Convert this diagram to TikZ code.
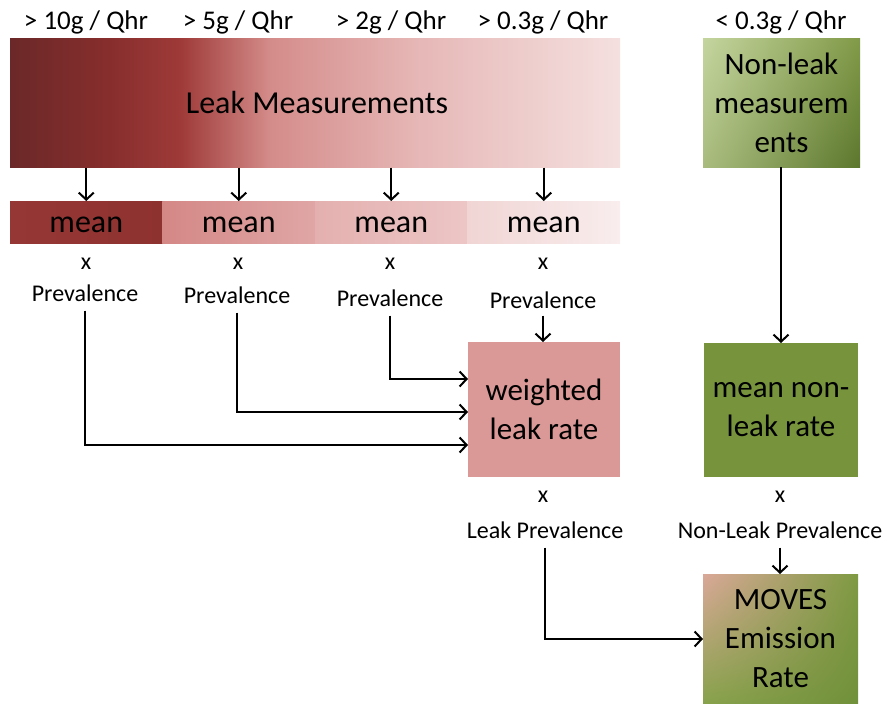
\documentclass[tikz,border=0pt]{standalone}
\usepackage{fontspec}
\setmainfont{Carlito}
\usetikzlibrary{arrows.meta,shadings}
\definecolor{barA}{HTML}{6B2828}
\definecolor{barB}{HTML}{872E2D}
\definecolor{barC}{HTML}{9E3A38}
\definecolor{barD}{HTML}{D48C8A}
\definecolor{barE}{HTML}{E6B8B7}
\definecolor{barF}{HTML}{F4E0DF}
\definecolor{mOneL}{HTML}{953735}
\definecolor{mOneR}{HTML}{8E3230}
\definecolor{mTwoL}{HTML}{D48886}
\definecolor{mTwoR}{HTML}{DFA6A5}
\definecolor{mThrL}{HTML}{E3B0AF}
\definecolor{mThrR}{HTML}{ECC6C5}
\definecolor{mFouL}{HTML}{F0D5D4}
\definecolor{mFouR}{HTML}{F9EDED}
\definecolor{nlUL}{HTML}{C5D59F}
\definecolor{nlLL}{HTML}{A9BC7E}
\definecolor{nlUR}{HTML}{819A48}
\definecolor{nlLR}{HTML}{5C772D}
\definecolor{mvUL}{HTML}{DAA898}
\definecolor{mvUR}{HTML}{7E9A42}
\definecolor{mvLL}{HTML}{87A24B}
\definecolor{mvLR}{HTML}{71903A}
\definecolor{wlfill}{HTML}{DA9896}
\definecolor{mngreen}{HTML}{77933C}
\begin{document}
\begin{tikzpicture}[x=1pt,y=-1pt,
  arr/.style={line width=2pt,-{Straight Barb[length=7pt,width=15pt,line width=2pt]}},
  hdr/.style={font=\fontsize{27}{32}\selectfont, inner sep=1pt},
  lbl/.style={font=\fontsize{24}{28}\selectfont, inner sep=1pt},
  bigtxt/.style={font=\fontsize{31}{39}\selectfont, align=center, inner sep=0pt, outer sep=0pt},
  meanbox/.style={minimum width=152.5pt, minimum height=42pt, inner sep=0pt, outer sep=0pt, text height=21pt, text depth=0pt, font=\fontsize{32}{36}\selectfont},
]
\useasboundingbox (0,0) rectangle (887,704);
\fill[white] (0,0) rectangle (887,704);

% header labels
\node[hdr] (t1) at (86,22) {> 10g / Qhr};
\node[hdr] (t2) at (238,22) {> 5g / Qhr};
\node[hdr] (t3) at (391,22) {> 2g / Qhr};
\node[hdr] (t4) at (543,22) {> 0.3g / Qhr};
\node[hdr] (t5) at (781,22) {< 0.3g / Qhr};

% leak measurement bar
\shade[left color=barA, right color=barB] (10,38) rectangle (110.5,167);
\shade[left color=barB, right color=barC] (110,38) rectangle (180.5,167);
\shade[left color=barC, right color=barD] (180,38) rectangle (270.5,167);
\shade[left color=barD, right color=barE] (270,38) rectangle (420.5,167);
\shade[left color=barE, right color=barF] (420,38) rectangle (620,167);
\node[bigtxt, font=\fontsize{32}{39}\selectfont, minimum width=610pt, minimum height=129pt] (bar) at (317,103) {Leak Measurements};

% mean boxes
\node[meanbox, left color=mOneL, right color=mOneR] (m1) at (86.25,222) {mean};
\node[meanbox, left color=mTwoL, right color=mTwoR] (m2) at (238.75,222) {mean};
\node[meanbox, left color=mThrL, right color=mThrR] (m3) at (391.25,222) {mean};
\node[meanbox, left color=mFouL, right color=mFouR] (m4) at (543.75,222) {mean};

\foreach \i in {1,2,3,4}{\draw[arr] (bar.south -| m\i.north) -- (m\i.north);}

% x / prevalence
\node[lbl] (x1) at (86,264) {x};
\node[lbl] (x2) at (238,264) {x};
\node[lbl] (x3) at (390,264) {x};
\node[lbl] (x4) at (543,264) {x};
\node[lbl] (p1) at (85,293) {Prevalence};
\node[lbl] (p2) at (237,295) {Prevalence};
\node[lbl] (p3) at (390,298) {Prevalence};
\node[lbl] (p4) at (543,300) {Prevalence};

% weighted leak rate
\node[bigtxt, fill=wlfill, minimum width=152pt, minimum height=135pt] (wl) at (544,409.5) {weighted\\leak rate};

\draw[arr] ([yshift=-6pt]p4.south) -- (p4.south |- wl.north);
\draw[arr] ([yshift=-8pt]p3.south) |- ([yshift=30.5pt]wl.west);
\draw[arr] ([yshift=-8pt]p2.south) |- ([yshift=-2.5pt]wl.west);
\draw[arr] ([yshift=-8pt]p1.south) |- ([yshift=-35.5pt]wl.west);

% non-leak
\node[bigtxt, minimum width=157pt, minimum height=129pt,
  upper left=nlUL, upper right=nlUR, lower left=nlLL, lower right=nlLR] (nl) at (781.5,102.5) {Non-leak\\measurem\\ents};
\node[bigtxt, fill=mngreen, minimum width=154pt, minimum height=134pt] (mn) at (781,410) {mean non-\\leak rate};
\draw[arr] (nl.south -| mn.north) -- (mn.north);

% prevalence labels
\node[lbl] (x5) at (543,497) {x};
\node[lbl] (x6) at (780,497) {x};
\node[lbl] (lp) at (545,530) {Leak Prevalence};
\node[lbl] (nlp) at (780,530) {Non-Leak Prevalence};

% MOVES
\node[bigtxt, minimum width=155pt, minimum height=130pt,
  upper left=mvUL, upper right=mvUR, lower left=mvLL, lower right=mvLR] (mv) at (780.5,639) {MOVES\\Emission\\Rate};

\draw[arr] ([yshift=-8pt]nlp.south) -- (nlp.south |- mv.north);
\draw[arr] ([yshift=-8pt]lp.south) |- (mv.west);
\end{tikzpicture}
\end{document}
